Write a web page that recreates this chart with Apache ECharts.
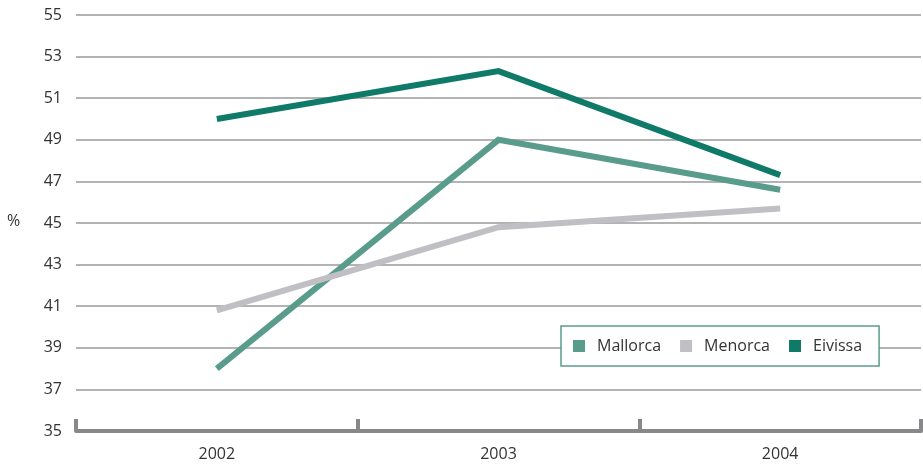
<!DOCTYPE html>
<html>
<head>
<meta charset="utf-8">
<script src="https://cdn.jsdelivr.net/npm/echarts@6/dist/echarts.min.js"></script>
<style>
  html, body { margin: 0; padding: 0; background: #fff; }
  #chart { width: 923px; height: 466px; }
</style>
</head>
<body>
<div id="chart"></div>
<script>
const years = ['2002', '2003', '2004']
const mallorca = [38.0, 49.0, 46.6]
const menorca = [40.8, 44.8, 45.7]
const eivissa = [50.0, 52.3, 47.3]

const chart = echarts.init(document.getElementById('chart'))
const font = '"Open Sans", "Noto Sans", sans-serif'

const lineSeries = (name, data, color) => ({
  name: name,
  type: 'line',
  data: data,
  symbol: 'none',
  color: color,
  lineStyle: { width: 6, color: color, cap: 'butt', join: 'miter' }
})

const option = {
  animation: false,
  textStyle: { fontFamily: font },
  grid: { left: 76, right: 2, top: 15, bottom: 35 },
  graphic: [
    { type: 'text', left: 7, top: 213, style: { text: '%', fontSize: 16, fill: '#333', fontFamily: font } }
  ],
  legend: {
    left: 561,
    top: 326,
    padding: [12, 17, 12, 12],
    backgroundColor: '#fff',
    borderColor: '#5a9c8c',
    borderWidth: 1.5,
    icon: 'rect',
    itemWidth: 12,
    itemHeight: 12,
    itemGap: 19,
    textStyle: { fontSize: 16, color: '#333', fontFamily: font, padding: [0, 0, 0, 7] },
    data: ['Mallorca', 'Menorca', 'Eivissa']
  },
  xAxis: {
    type: 'category',
    data: years,
    boundaryGap: true,
    axisLine: { lineStyle: { color: '#88888b', width: 4 } },
    axisTick: { show: true, inside: true, length: 12, lineStyle: { color: '#88888b', width: 4 } },
    axisLabel: { margin: 15, fontSize: 16, color: '#333' }
  },
  yAxis: {
    type: 'value',
    min: 35,
    max: 55,
    interval: 2,
    axisLine: { show: false },
    axisTick: { show: false },
    axisLabel: { margin: 14, fontSize: 16, color: '#333', showMinLabel: true },
    splitLine: { lineStyle: { color: '#9a9a9a', width: 1.5 } }
  },
  series: [
    lineSeries('Mallorca', mallorca, '#5a9c8c'),
    lineSeries('Menorca', menorca, '#bfbfc4'),
    lineSeries('Eivissa', eivissa, '#0f7a68')
  ]
}

chart.setOption(option)
</script>
</body>
</html>
